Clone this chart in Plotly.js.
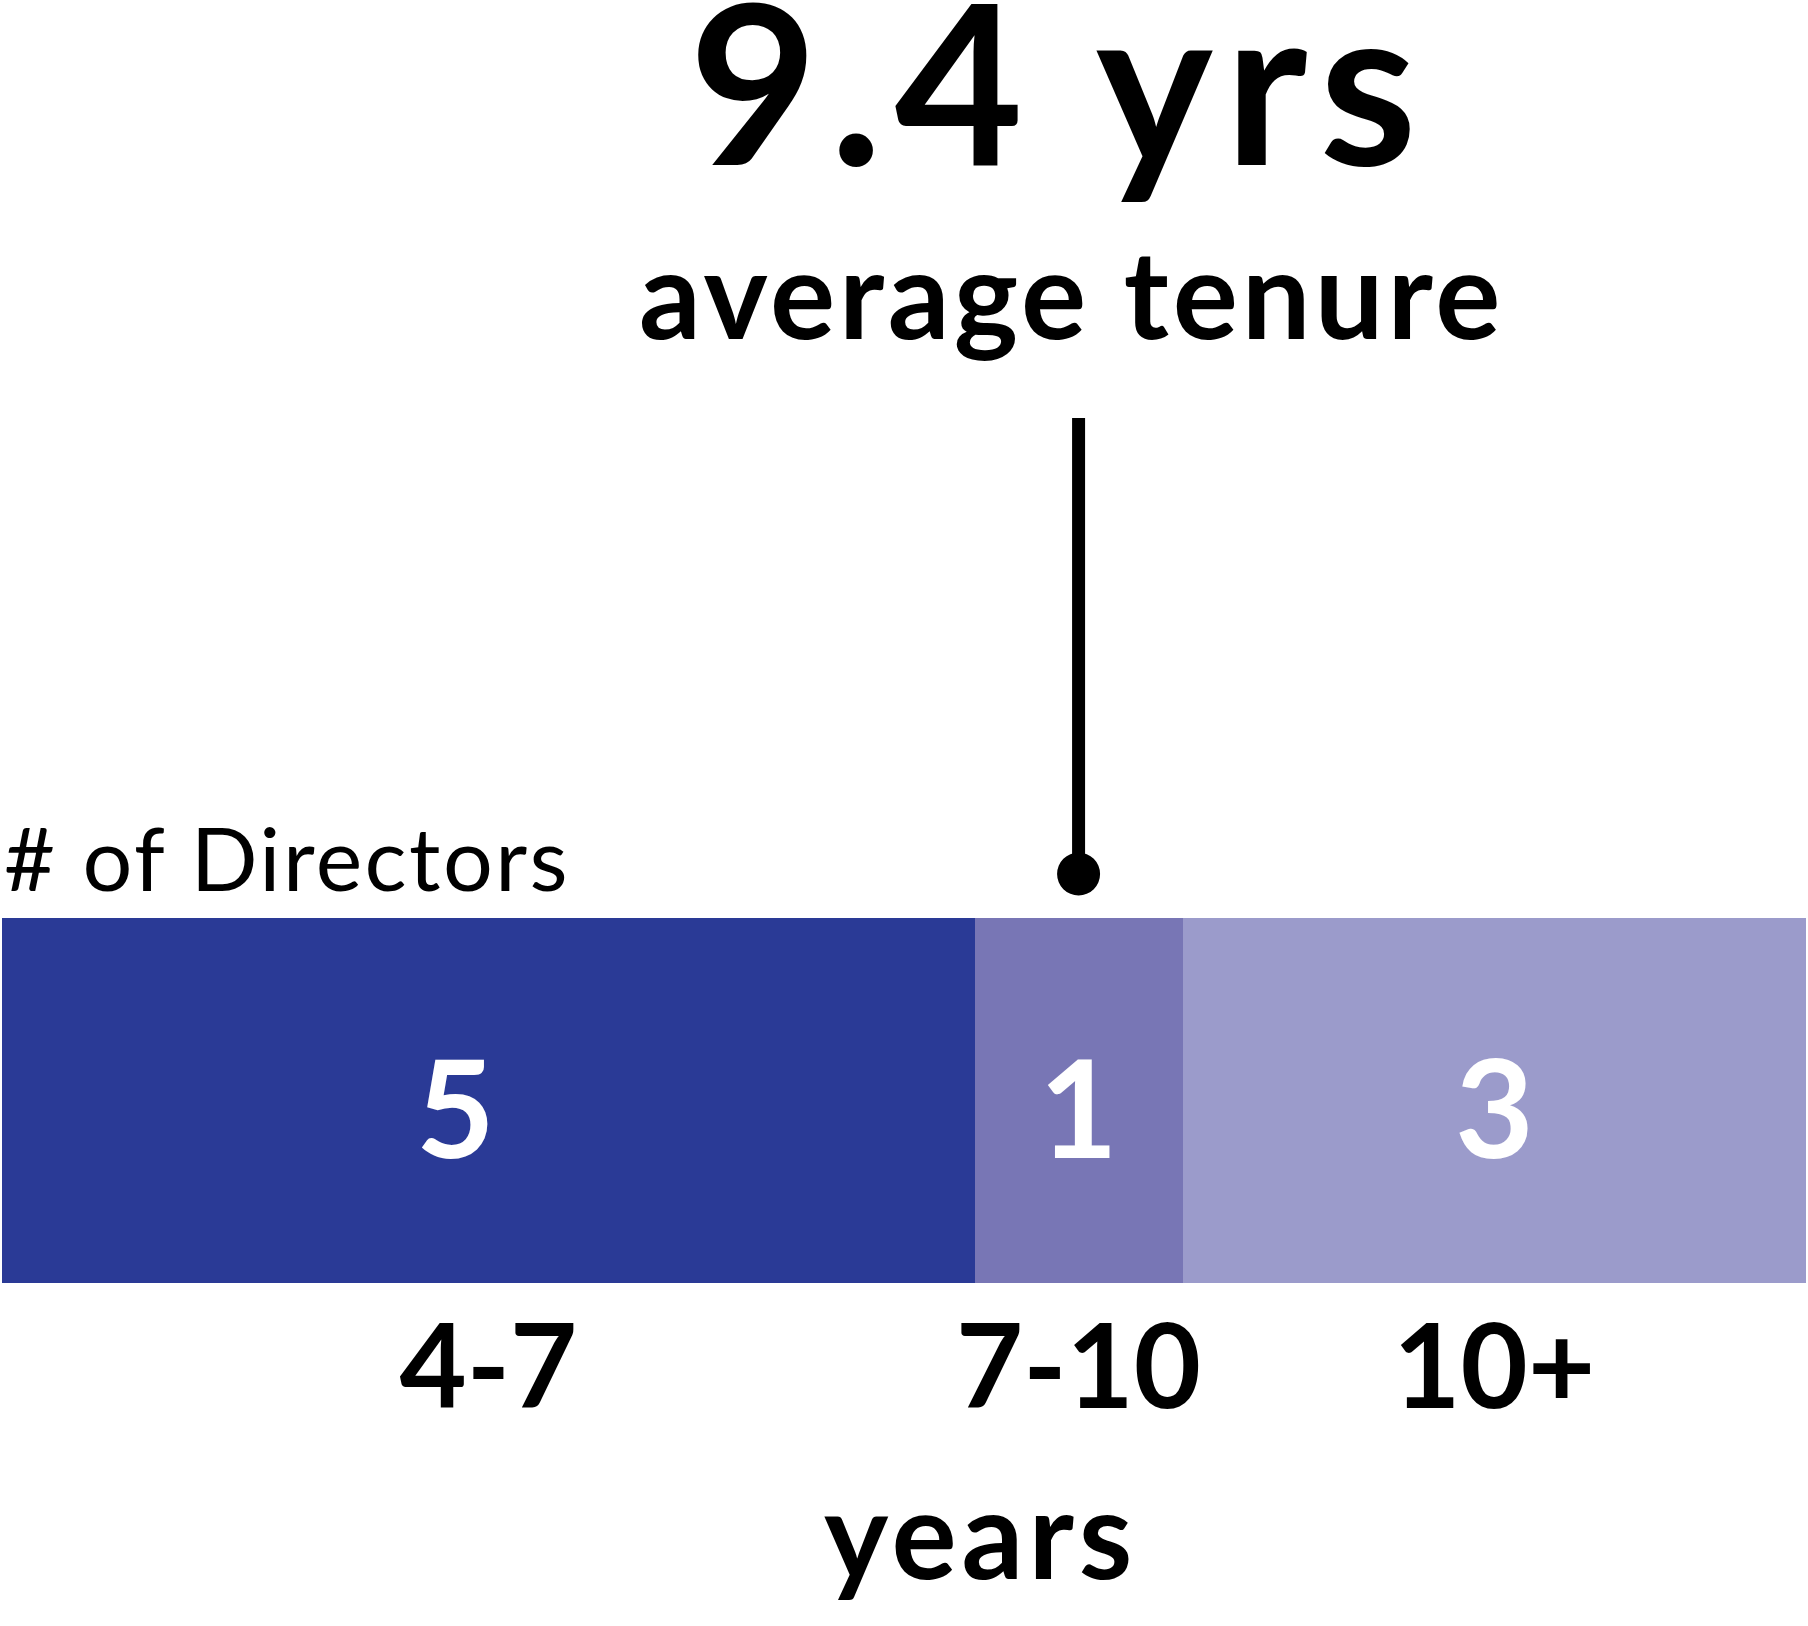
<!DOCTYPE html>
<html>
<head>
<meta charset="utf-8">
<script src="https://cdn.plot.ly/plotly-3.0.1.min.js"></script>
<style>
  html, body { margin: 0; padding: 0; background: #ffffff; }
  #chart { width: 1808px; height: 1626px; }
</style>
</head>
<body>
<div id="chart"></div>
<script>
// ---- data ----
const categories = ["4-7", "7-10", "10+"];
const directorCounts = [5, 1, 3];
const averageTenure = "9.4";
const tenureUnit = "yrs";
const subtitleText = "average tenure";
const countLabel = "# of Directors";
const axisLabel = "years";
const segmentColors = ["#2a3a96", "#7876b5", "#9b9bcb"];

// ---- layout geometry (pixels) ----
const W = 1808, H = 1626;
const M = { l: 2, r: 2, t: 918, b: 343 };
const plotH = H - M.t - M.b;
const plotW = W - M.l - M.r;
const py = px => (H - M.b - px) / plotH;       // pixel y -> paper y
const pxx = px => (px - M.l) / plotW;          // pixel x -> paper x
const FONT = "Lato, 'Open Sans', sans-serif";
const spaced = (t, ls) => '<span style="letter-spacing:' + ls + 'px">' + t + '</span>';

const xMin = 0.32;
const total = directorCounts.reduce((a, b) => a + b, 0);
const starts = [];
let acc = 0;
directorCounts.forEach(v => { starts.push(acc); acc += v; });
const mids = directorCounts.map((v, i) => (Math.max(starts[i], xMin) + starts[i] + v) / 2);
const centers = directorCounts.map((v, i) => starts[i] + v / 2);

const traces = directorCounts.map((v, i) => ({
  type: "bar",
  orientation: "h",
  x: [v],
  y: ["d"],
  name: categories[i],
  width: 1,
  marker: { color: segmentColors[i], line: { width: 0 } },
  hoverinfo: "skip"
}));

// marker sits in the middle of the segment containing the average
const markerX = starts[1] + directorCounts[1] / 2;

const valueAnnotations = directorCounts.map((v, i) => ({
  text: "<b>" + v + "</b>",
  xref: "x", yref: "paper",
  x: centers[i], y: 0.5,
  xanchor: "center", yanchor: "middle",
  yshift: -5,
  showarrow: false,
  font: { family: FONT, size: 136, color: "#ffffff", weight: 700 }
}));

const layout = {
  width: W, height: H,
  margin: M,
  paper_bgcolor: "#ffffff",
  plot_bgcolor: "#ffffff",
  barmode: "stack",
  bargap: 0,
  showlegend: false,
  xaxis: {
    range: [xMin, total],
    showgrid: false, zeroline: false, showline: false,
    ticks: "",
    tickmode: "array",
    tickvals: mids,
    ticktext: categories,
    ticklabelstandoff: 8,
    tickfont: { family: FONT, size: 116, color: "#000000", weight: 700 },
    fixedrange: true
  },
  yaxis: {
    range: [-0.5, 0.5],
    showgrid: false, zeroline: false, showline: false,
    showticklabels: false, ticks: "",
    fixedrange: true
  },
  shapes: [
    {
      type: "line", xref: "x", yref: "paper",
      x0: markerX, x1: markerX, y0: py(418), y1: py(872),
      line: { color: "#000000", width: 13 }
    },
    {
      type: "circle", xref: "x", yref: "paper",
      xsizemode: "pixel", ysizemode: "pixel",
      xanchor: markerX, yanchor: py(874),
      x0: -21.5, x1: 21.5, y0: -21.5, y1: 21.5,
      fillcolor: "#000000", line: { width: 0 }
    }
  ],
  annotations: valueAnnotations.concat([
    {
      text: "<b>" + spaced(averageTenure + " " + tenureUnit, 12) + "</b>",
      xref: "paper", yref: "paper",
      x: pxx(1059), y: py(166 + 0.213 * 222 + 1),
      xanchor: "center", yanchor: "bottom",
      showarrow: false,
      font: { family: FONT, size: 222, color: "#000000", weight: 900 }
    },
    {
      text: "<b>" + spaced(subtitleText, 4) + "</b>",
      xref: "paper", yref: "paper",
      x: pxx(1071), y: py(340 + 0.213 * 122 + 1),
      xanchor: "center", yanchor: "bottom",
      showarrow: false,
      font: { family: FONT, size: 122, color: "#000000", weight: 700 }
    },
    {
      text: spaced(countLabel, 2.5),
      xref: "paper", yref: "paper",
      x: 0, y: py(892 + 0.213 * 88 + 1),
      xanchor: "left", yanchor: "bottom",
      showarrow: false,
      font: { family: FONT, size: 88, color: "#000000" }
    },
    {
      text: "<b>" + spaced(axisLabel, 5) + "</b>",
      xref: "paper", yref: "paper",
      x: pxx(980), y: py(1580 + 0.213 * 122 + 1),
      xanchor: "center", yanchor: "bottom",
      showarrow: false,
      font: { family: FONT, size: 122, color: "#000000", weight: 700 }
    }
  ])
};

Plotly.newPlot("chart", traces, layout, { displayModeBar: false, staticPlot: true });
</script>
</body>
</html>
